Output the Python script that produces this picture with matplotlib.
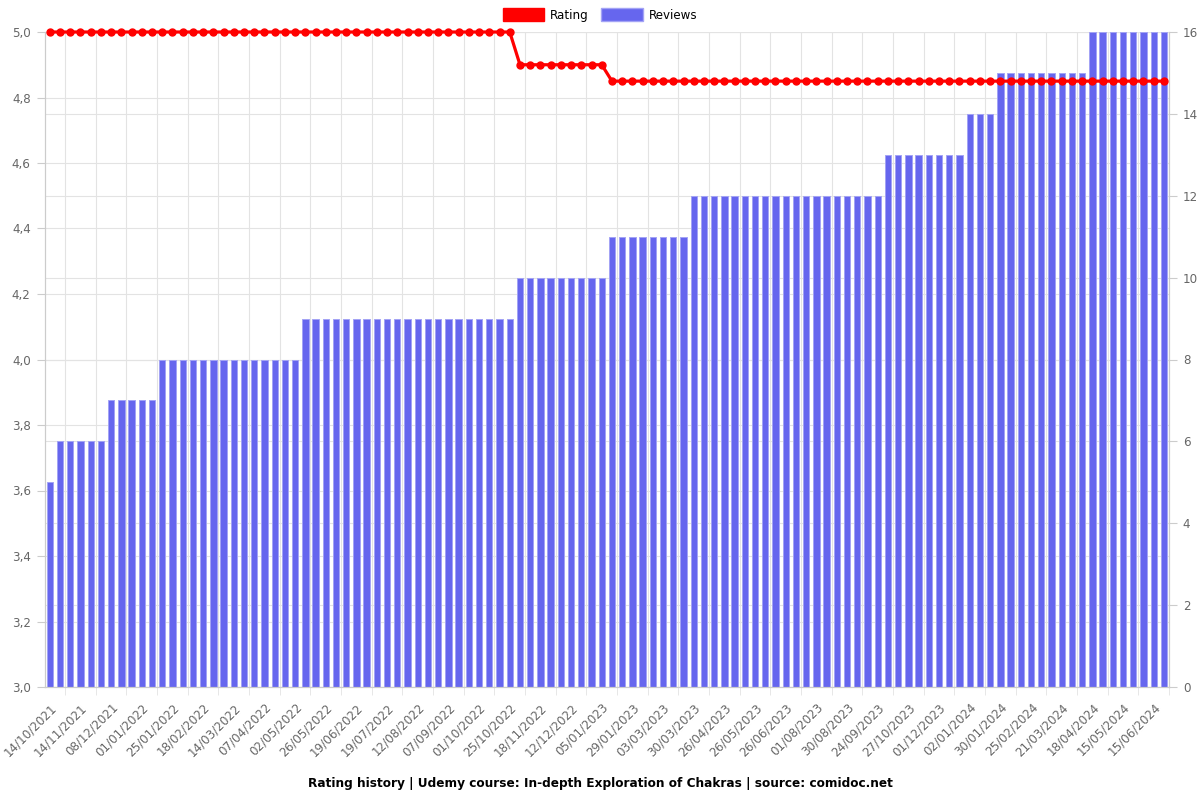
import numpy as np
import matplotlib
matplotlib.use('Agg')
import matplotlib.pyplot as plt
from matplotlib.patches import Patch
from matplotlib.ticker import FuncFormatter

# tick labels (every 3rd data point)
date_labels = ['14/10/2021', '14/11/2021', '08/12/2021', '01/01/2022', '25/01/2022',
               '18/02/2022', '14/03/2022', '07/04/2022', '02/05/2022', '26/05/2022',
               '19/06/2022', '19/07/2022', '12/08/2022', '07/09/2022', '01/10/2022',
               '25/10/2022', '18/11/2022', '12/12/2022', '05/01/2023', '29/01/2023',
               '03/03/2023', '30/03/2023', '26/04/2023', '26/05/2023', '26/06/2023',
               '01/08/2023', '30/08/2023', '24/09/2023', '27/10/2023', '01/12/2023',
               '02/01/2024', '30/01/2024', '25/02/2024', '21/03/2024', '18/04/2024',
               '15/05/2024', '15/06/2024']

# number of reviews per data point
reviews = [5,
           6, 6, 6, 6, 6,
           7, 7, 7, 7, 7,
           8, 8, 8, 8, 8, 8, 8, 8, 8, 8, 8, 8, 8, 8,
           9, 9, 9, 9, 9, 9, 9, 9, 9, 9, 9, 9, 9, 9, 9, 9, 9, 9, 9, 9, 9,
           10, 10, 10, 10, 10, 10, 10, 10, 10,
           11, 11, 11, 11, 11, 11, 11, 11,
           12, 12, 12, 12, 12, 12, 12, 12, 12, 12, 12, 12, 12, 12, 12, 12, 12, 12, 12,
           13, 13, 13, 13, 13, 13, 13, 13,
           14, 14, 14,
           15, 15, 15, 15, 15, 15, 15, 15, 15,
           16, 16, 16, 16, 16, 16, 16, 16]

# average rating per data point
rating = [5.0, 5.0, 5.0, 5.0, 5.0, 5.0, 5.0, 5.0, 5.0, 5.0,
          5.0, 5.0, 5.0, 5.0, 5.0, 5.0, 5.0, 5.0, 5.0, 5.0,
          5.0, 5.0, 5.0, 5.0, 5.0, 5.0, 5.0, 5.0, 5.0, 5.0,
          5.0, 5.0, 5.0, 5.0, 5.0, 5.0, 5.0, 5.0, 5.0, 5.0,
          5.0, 5.0, 5.0, 5.0, 5.0, 5.0,
          4.9, 4.9, 4.9, 4.9, 4.9, 4.9, 4.9, 4.9, 4.9,
          4.85, 4.85, 4.85, 4.85, 4.85, 4.85, 4.85, 4.85, 4.85, 4.85,
          4.85, 4.85, 4.85, 4.85, 4.85, 4.85, 4.85, 4.85, 4.85, 4.85,
          4.85, 4.85, 4.85, 4.85, 4.85, 4.85, 4.85, 4.85, 4.85, 4.85,
          4.85, 4.85, 4.85, 4.85, 4.85, 4.85, 4.85, 4.85, 4.85, 4.85,
          4.85, 4.85, 4.85, 4.85, 4.85, 4.85, 4.85, 4.85, 4.85, 4.85,
          4.85, 4.85, 4.85, 4.85, 4.85]

rating_ticks = [3.0, 3.2, 3.4, 3.6, 3.8, 4.0, 4.2, 4.4, 4.6, 4.8, 5.0]
review_ticks = [0, 2, 4, 6, 8, 10, 12, 14, 16]

bar_color = '#6666ee'
grid_color = '#e3e3e3'
tick_color = '#666666'
fs = 8.6

fig = plt.figure(figsize=(12, 8), dpi=100)
W, H = 1200, 800
left, right, top, bottom = 44.7, 1169, 32, 687
ax = fig.add_axes([left / W, 1 - bottom / H, (right - left) / W, (bottom - top) / H])
ax2 = ax.twinx()

x = np.arange(len(reviews))

# bars (reviews, right scale)
ax.bar(x, reviews, width=0.62, color=bar_color, edgecolor='#a3a3f5', linewidth=0.7, zorder=2)
ax.set_ylim(0, 16)
ax.set_xlim(-0.5, len(reviews) - 0.5)
ax.yaxis.tick_right()
ax.set_yticks(review_ticks)
ax.tick_params(axis='y', colors='#cccccc', labelcolor=tick_color, labelsize=fs, length=6, pad=4)

# horizontal grid from both scales, drawn behind the bars
for t in review_ticks:
    ax.axhline(t, color=grid_color, lw=0.8, zorder=0)
for v in rating_ticks:
    ax.axhline((v - 3.0) / 2.0 * 16, color=grid_color, lw=0.8, zorder=0)

# x ticks: labels every 3 points, grid lines between categories
ax.set_xticks(x[::3])
ax.set_xticklabels(date_labels, rotation=45, ha='right', rotation_mode='anchor',
                   color=tick_color, fontsize=fs)
ax.tick_params(axis='x', which='major', length=0, pad=10)
ax.set_xticks(x[1::3] + 0.5, minor=True)
ax.tick_params(axis='x', which='minor', length=6, color=grid_color)
ax.grid(True, axis='x', which='minor', color=grid_color, lw=0.8, zorder=0)
ax.set_axisbelow(True)

# rating line (left scale)
ax2.plot(x, rating, color='#ff0000', lw=2.3, marker='o', markersize=5, zorder=3, clip_on=False)
ax2.set_ylim(3.0, 5.0)
ax2.yaxis.tick_left()
ax2.set_yticks(rating_ticks)
ax2.yaxis.set_major_formatter(FuncFormatter(lambda v, p: ('%.1f' % v).replace('.', ',')))
ax2.tick_params(axis='y', colors='#cccccc', labelcolor=tick_color, labelsize=fs, length=6, pad=4)

for a in (ax, ax2):
    for s in a.spines.values():
        s.set_color('#cccccc')
        s.set_linewidth(0.8)
    a.spines['top'].set_visible(False)

# legend at top
handles = [Patch(facecolor='#ff0000', edgecolor='#ff0000', label='Rating'),
           Patch(facecolor=bar_color, edgecolor='#a3a3f5', label='Reviews')]
fig.legend(handles=handles, loc='center', bbox_to_anchor=(0.5, 1 - 15 / H), ncol=2,
           frameon=False, fontsize=fs, handlelength=3.5, handleheight=1.2,
           handletextpad=0.5, columnspacing=1.0)

fig.text(0.5, 1 - 783 / H,
         'Rating history | Udemy course: In-depth Exploration of Chakras | source: comidoc.net',
         ha='center', va='center', fontsize=8.7, fontweight='bold')

fig.savefig('out.png', dpi=100)
